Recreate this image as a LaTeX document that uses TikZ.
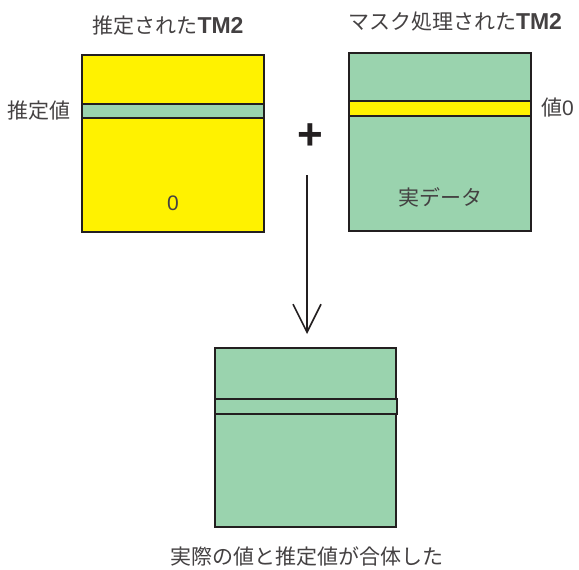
\documentclass[tikz,border=0pt]{standalone}
\usepackage{fontspec}
\setmainfont{Noto Sans CJK JP}
\newfontfamily\lat{Liberation Sans}
\usetikzlibrary{arrows.meta}
\definecolor{yel}{HTML}{FFF200}
\definecolor{grn}{HTML}{9AD3AE}
\definecolor{ink}{HTML}{231F20}
\newcommand{\tmtwo}{{\lat\bfseries\fontsize{23}{24}\selectfont TM2}}
\begin{document}
\begin{tikzpicture}[x=1pt,y=-1pt,
  box/.style={draw=ink,line width=2.8pt},
  lbl/.style={inner sep=0pt,font=\fontsize{21}{24}\selectfont,text=ink!85}]
\useasboundingbox (0,0) rectangle (579,570);
% left matrix
\draw[box,fill=yel] (82,55) rectangle (264,232);
\draw[box,fill=grn] (82,104) rectangle (264,118);
% right matrix
\draw[box,fill=grn] (349,53) rectangle (531,231);
\draw[box,fill=yel] (349,101) rectangle (531,116);
% bottom matrix
\draw[box,fill=grn] (215,348) rectangle (396,527);
\draw[box,fill=grn] (215,399) rectangle (397,414);
% labels
\node[lbl] (t1) at (168,26) {推定された\tmtwo};
\node[lbl] (t2) at (455,22) {マスク処理された\tmtwo};
\node[lbl,anchor=west] (l1) at (7,111) {推定値};
\node[lbl,anchor=west] (l2) at (541,108) {値{\lat 0}};
\node[lbl] (z) at (173,203) {\lat 0};
\node[lbl] (r) at (440,197) {実データ};
\node[lbl] (b) at (307,557) {実際の値と推定値が合体した};
% plus and arrow
\node[inner sep=0pt,text=ink,font=\lat\bfseries\fontsize{44}{44}\selectfont] (plus) at (310,137) {+};
\coordinate (as) at (307,175);
\coordinate (ae) at (307,334);
\draw[ink,line width=1.6pt,-{Straight Barb[length=28pt,width=28pt,line width=1.6pt]}] (as) -- (ae);
\end{tikzpicture}
\end{document}
